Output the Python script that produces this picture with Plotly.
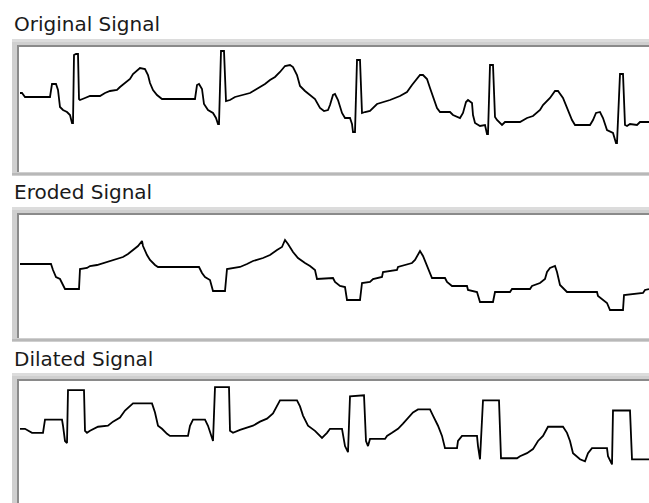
import plotly.graph_objects as go

W, H = 649, 503

titles = ["Original Signal", "Eroded Signal", "Dilated Signal"]

orig_x = [0,2,5,30,32,36,38,40,43,47,50,52,53,54,56,58,59,60,65,70,80,85,90,97,100,105,110,113,117,120,125,128,130,133,137,142,175,177,179,182,184,188,193,196,198,199,201,204,206,210,215,223,230,235,240,245,250,255,260,265,270,273,277,280,285,290,295,300,304,308,310,313,315,318,322,325,330,332,333,335,337,340,342,345,350,357,370,380,387,392,397,400,403,407,410,413,417,420,430,433,440,443,446,448,452,453,455,460,465,467,468,470,473,475,477,482,485,500,507,513,520,523,530,535,538,543,547,552,555,570,573,576,580,583,587,593,596,597,600,603,605,607,610,617,620,629]
orig_y = [46,46,42,42,55,55,49,32,29,27,24,16,16,84,85,85,40,39,41,43,43,46,48,49,52,56,60,65,69,71,70,64,56,49,44,40,40,54,55,50,35,29,26,21,15,15,88,88,38,39,42,44,46,49,52,55,59,62,67,73,74,72,64,53,48,44,40,31,28,29,34,44,45,39,26,21,21,15,7,7,79,79,26,27,28,35,39,43,47,54,61,64,64,60,51,42,31,27,27,24,21,26,37,39,36,24,16,13,14,5,5,74,74,22,19,14,17,17,21,23,29,34,41,48,48,41,31,19,14,14,19,26,27,21,9,6,-4,-4,65,65,14,13,15,14,17,17]

ero_x = [0,31,33,36,40,43,45,59,60,67,70,77,83,90,97,103,108,113,118,122,123,127,130,135,138,179,182,185,190,193,205,207,213,220,227,233,243,250,257,262,265,268,273,278,285,290,295,297,313,315,320,325,327,340,342,350,353,362,363,377,378,385,392,395,397,400,403,407,412,425,427,432,447,448,457,460,473,475,490,492,510,512,520,525,527,530,535,537,540,547,577,578,583,587,590,603,604,613,623,625,629]
ero_y = [43,43,37,30,28,21,18,18,38,39,41,42,44,46,48,50,53,57,61,66,61,52,47,42,40,40,34,30,27,16,16,38,39,40,43,46,49,52,57,60,67,63,55,49,44,41,37,28,29,25,21,20,7,7,24,25,28,30,35,37,40,42,44,47,51,56,51,42,29,29,25,21,21,17,15,5,5,15,15,18,18,21,24,28,35,39,41,35,22,15,15,11,7,4,-3,-3,12,13,14,17,18]

dil_x = [0,5,12,23,25,42,43,45,47,48,64,65,67,70,78,88,93,100,105,110,113,132,135,138,142,147,150,168,170,173,185,188,192,193,195,209,210,213,220,227,233,240,247,253,260,277,280,283,288,295,302,307,310,322,323,325,328,330,344,346,348,350,365,367,372,378,383,388,393,398,410,413,418,422,425,437,438,442,457,458,460,463,478,479,481,497,500,507,513,518,523,528,543,547,550,553,560,565,568,572,587,588,592,593,610,612,629]
dil_y = [45,45,41,41,54,54,48,33,31,83,83,43,41,43,47,48,52,56,63,67,70,70,61,48,45,40,38,38,48,54,54,48,36,33,86,86,43,41,44,46,48,52,55,60,73,73,67,58,48,43,36,41,45,45,40,28,22,77,78,33,28,35,35,38,41,45,50,56,61,64,64,58,48,38,26,26,33,38,38,28,15,73,73,73,16,16,18,21,25,33,38,47,47,41,33,21,15,13,21,26,26,18,10,63,63,15,15]

signals = [(orig_x, orig_y), (ero_x, ero_y), (dil_x, dil_y)]

# panel geometry in pixels (frame outer top, inner top, inner bottom, frame bottom)
panels = [
    dict(ftop=39, itop=47, ibot=172, fbot=176, yr=[-33, 92], ty=24),
    dict(ftop=207, itop=215, ibot=338, fbot=342, yr=[-31, 92], ty=192),
    dict(ftop=373, itop=381, ibot=503, fbot=510, yr=[-28, 92], ty=359),
]

def px(x):
    return x / W

def py(y):
    return 1 - y / H

fig = go.Figure()
shapes = []
annotations = []
left_outer, left_inner = 12, 19

for i, (p, (xs, ys)) in enumerate(zip(panels, signals)):
    n = i + 1
    xa = "x" if n == 1 else f"x{n}"
    ya = "y" if n == 1 else f"y{n}"
    fig.add_trace(go.Scatter(x=xs, y=ys, mode="lines",
                             line=dict(color="#000000", width=1.8),
                             xaxis=xa, yaxis=ya, hoverinfo="skip",
                             showlegend=False))
    dom_y = [max(0, py(p["ibot"])), py(p["itop"])]
    fig.layout[f"xaxis{'' if n == 1 else n}"] = dict(
        domain=[px(left_inner), 1], range=[-1, 629], visible=False,
        fixedrange=True, anchor=ya)
    fig.layout[f"yaxis{'' if n == 1 else n}"] = dict(
        domain=dom_y, range=p["yr"], visible=False, fixedrange=True, anchor=xa)

    # frame: light gray band
    shapes.append(dict(type="rect", xref="paper", yref="paper", layer="below",
                       x0=px(left_outer), x1=px(W + 10),
                       y0=py(p["fbot"]), y1=py(p["ftop"]),
                       fillcolor="#cfcfcf", line=dict(width=0)))
    # outer lighter top band
    shapes.append(dict(type="rect", xref="paper", yref="paper", layer="below",
                       x0=px(left_outer), x1=px(W + 10),
                       y0=py(p["ftop"] + 3), y1=py(p["ftop"]),
                       fillcolor="#dcdcdc", line=dict(width=0)))
    # white interior
    shapes.append(dict(type="rect", xref="paper", yref="paper", layer="below",
                       x0=px(left_inner), x1=px(W + 10),
                       y0=py(p["ibot"]), y1=py(p["itop"]),
                       fillcolor="#ffffff", line=dict(width=0)))
    # dark inner top and left edges
    shapes.append(dict(type="line", xref="paper", yref="paper", layer="below",
                       x0=px(left_inner - 1.5), x1=px(W + 10),
                       y0=py(p["itop"] - 1), y1=py(p["itop"] - 1),
                       line=dict(color="#8a8a8a", width=2)))
    shapes.append(dict(type="line", xref="paper", yref="paper", layer="below",
                       x0=px(left_inner - 1), x1=px(left_inner - 1),
                       y0=py(p["ibot"]), y1=py(p["itop"] - 2),
                       line=dict(color="#8a8a8a", width=2)))
    # bottom edge line
    shapes.append(dict(type="line", xref="paper", yref="paper", layer="below",
                       x0=px(left_outer), x1=px(W + 10),
                       y0=py(p["fbot"] - 2), y1=py(p["fbot"] - 2),
                       line=dict(color="#b0b0b0", width=1.5)))

    annotations.append(dict(text=titles[i], xref="paper", yref="paper",
                            x=px(12), y=py(p["ty"]), xanchor="left", yanchor="middle",
                            showarrow=False,
                            font=dict(family="DejaVu Sans", size=20, color="#1a1a1a")))

fig.update_layout(width=W, height=H, margin=dict(l=0, r=0, t=0, b=0),
                  paper_bgcolor="#ffffff", plot_bgcolor="rgba(0,0,0,0)",
                  shapes=shapes, annotations=annotations, hovermode=False)

fig.write_html("out.html", config={"displayModeBar": False},
               post_script="document.body.style.margin='0';document.body.style.overflow='hidden';")
